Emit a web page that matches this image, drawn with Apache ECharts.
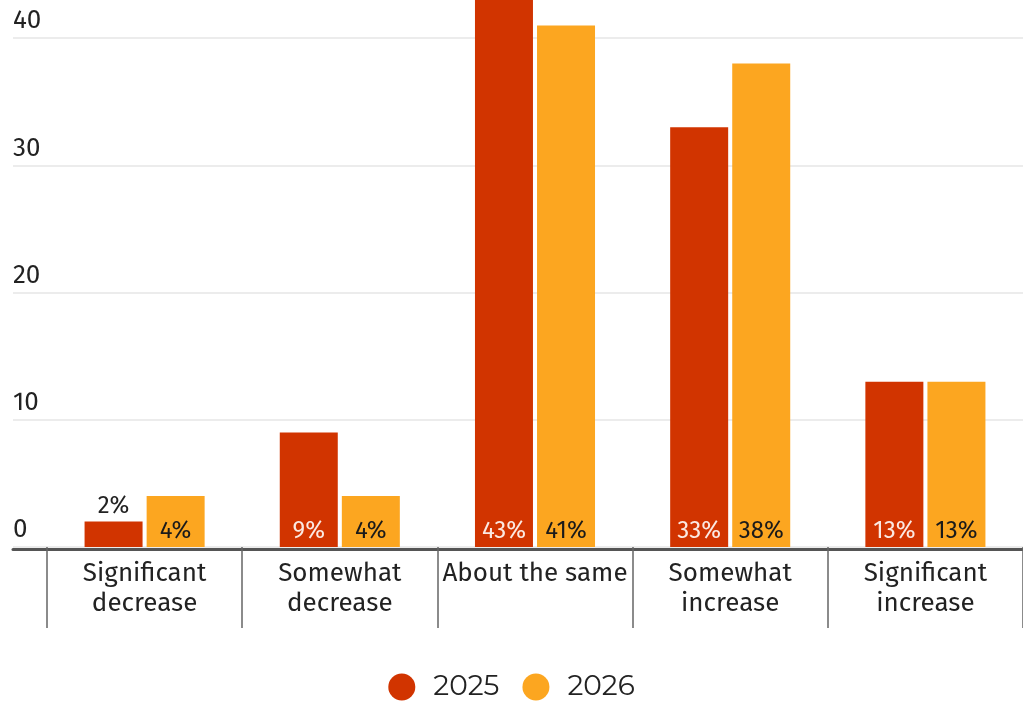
<!DOCTYPE html>
<html><head><meta charset="utf-8">
<script src="https://cdn.jsdelivr.net/npm/echarts@6/dist/echarts.min.js"></script>
<style>html,body{margin:0;padding:0;background:#fff}#c{width:1023px;height:701px}</style>
</head><body><div id="c"></div>
<script>
const categories = ['Significant\ndecrease','Somewhat\ndecrease','About the same','Somewhat\nincrease','Significant\nincrease'];
const values2025 = [2, 9, 43, 33, 13];
const values2026 = [4, 4, 41, 38, 13];
const seriesNames = ['2025', '2026'];
const FONT = '"Fira Sans", "Noto Sans", sans-serif';
const RED = '#D13400', ORANGE = '#FCA620';

function mkData(vals, insideColor) {
  return vals.map(v => {
    if (v < 3) {
      return {value: v, label: {position: 'top', color: '#222', distance: 3}};
    }
    return {value: v, label: {position: 'insideBottom', color: insideColor, distance: 4}};
  });
}

const chart = echarts.init(document.getElementById('c'), null, {renderer: 'canvas'});
chart.setOption({
  animation: false,
  textStyle: {fontFamily: FONT},
  grid: [
    {left: 47, right: -3, top: -3, bottom: 154},
    {left: 13, right: 0, top: -3, bottom: 154}
  ],
  legend: {
    data: seriesNames,
    top: 668, left: 'center',
    icon: 'circle', itemWidth: 27, itemHeight: 27, itemGap: 23,
    textStyle: {fontSize: 28, lineHeight: 27, color: '#222', fontFamily: '"Montserrat", "Noto Sans", sans-serif', padding: [0, 0, 0, 13]}
  },
  xAxis: [
    {
      type: 'category', gridIndex: 0, data: categories,
      axisLine: {show: false},
      axisTick: {show: true, length: 81, lineStyle: {color: '#666', width: 1.5}},
      axisLabel: {fontSize: 26, color: '#222', lineHeight: 30, margin: 12, fontFamily: FONT, interval: 0}
    },
    {
      type: 'value', gridIndex: 1, min: 0, max: 1, offset: 2,
      axisLine: {show: true, onZero: false, lineStyle: {color: '#555', width: 3}},
      axisTick: {show: false}, axisLabel: {show: false}, splitLine: {show: false}
    }
  ],
  yAxis: [
    {type: 'value', gridIndex: 0, min: 0, max: 43, interval: 10, show: false},
    {
      type: 'value', gridIndex: 1, min: 0, max: 43, interval: 10,
      axisLine: {show: false}, axisTick: {show: false},
      splitLine: {show: true, showMaxLine: false, lineStyle: {color: '#e6e6e6', width: 1.5}},
      axisLabel: {inside: true, margin: 0, verticalAlign: 'bottom', padding: [0, 0, 4, 0],
        fontSize: 26, color: '#222', fontFamily: FONT, showMaxLabel: false}
    }
  ],
  series: [
    {
      name: seriesNames[0], type: 'bar', xAxisIndex: 0, yAxisIndex: 0,
      data: mkData(values2025, '#fbe9e2'), barWidth: 58, barGap: '7%',
      itemStyle: {color: RED},
      label: {show: true, formatter: '{c}%', fontSize: 24, fontFamily: FONT}
    },
    {
      name: seriesNames[1], type: 'bar', xAxisIndex: 0, yAxisIndex: 0,
      data: mkData(values2026, '#1a1a1a'), barWidth: 58,
      itemStyle: {color: ORANGE},
      label: {show: true, formatter: '{c}%', fontSize: 24, fontFamily: FONT}
    }
  ]
});
</script></body></html>
